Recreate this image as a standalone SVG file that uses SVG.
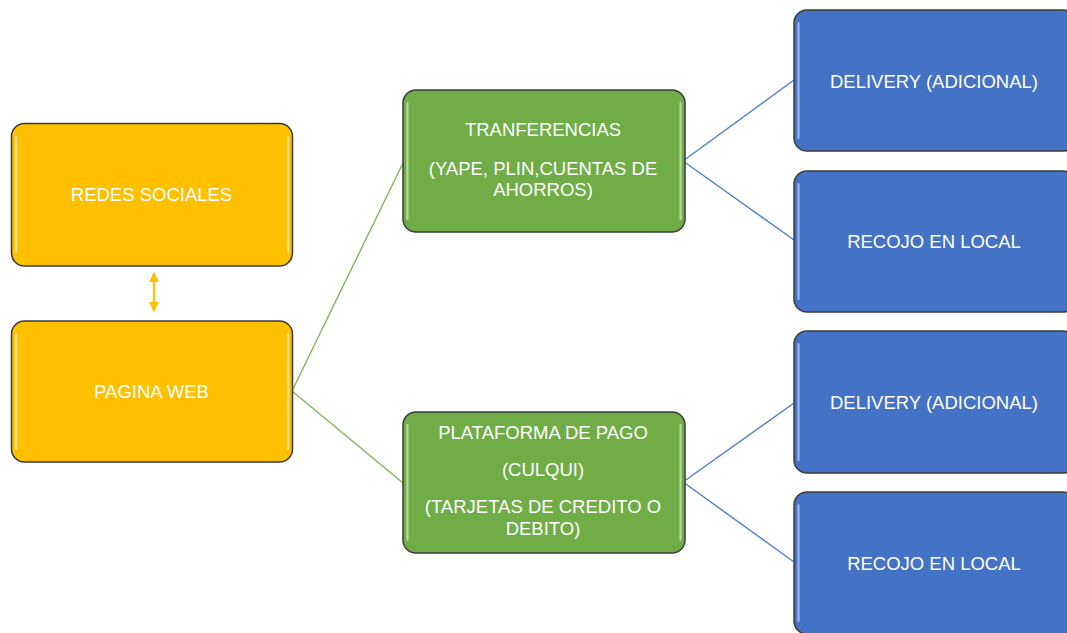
<svg xmlns="http://www.w3.org/2000/svg" width="1067" height="633" viewBox="0 0 1067 633">
  <defs>
    <marker id="ah" viewBox="0 0 10 10" refX="9" refY="5" markerWidth="10" markerHeight="10" markerUnits="userSpaceOnUse" orient="auto-start-reverse">
      <path d="M0,0 L10,5 L0,10 z" fill="#FFC000"/>
    </marker>
    <style>
      .box { stroke: #3b3b3b; stroke-width: 1.5; }
      .orange { fill: #FFC000; }
      .green { fill: #70AD47; }
      .blue { fill: #4472C4; }
      .hl { fill: none; stroke-width: 2.2; stroke-linecap: round; }
      .hlo { stroke: #FFE38C; }
      .hlg { stroke: #B5DB9C; }
      .hlb { stroke: #9CB8E8; }
      .t { font-family: "Liberation Sans", Arial, sans-serif; font-size: 18.5px; fill: #FFFFFF; text-anchor: middle; }
      .cg { stroke: #7DB856; stroke-width: 1.4; fill: none; }
      .cb { stroke: #4F7FD0; stroke-width: 1.4; fill: none; }
    </style>
  </defs>
  <rect width="1067" height="633" fill="#FFFFFF"/>

  <g id="connectors">
    <line class="cg" x1="292" y1="391" x2="403" y2="163"/>
    <line class="cg" x1="292" y1="391" x2="403" y2="483"/>
    <line class="cb" x1="683" y1="161" x2="794" y2="80"/>
    <line class="cb" x1="683" y1="161" x2="794" y2="240"/>
    <line class="cb" x1="683" y1="482" x2="794" y2="403"/>
    <line class="cb" x1="683" y1="482" x2="794" y2="562"/>
    <line x1="154" y1="273" x2="154" y2="311" stroke="#FFC000" stroke-width="2.2" marker-start="url(#ah)" marker-end="url(#ah)"/>
  </g>

  <g id="redes-sociales">
    <rect class="box orange" x="11.5" y="123.5" width="281" height="142.5" rx="13"/>
    <line class="hl hlo" x1="16" y1="137" x2="16" y2="252"/>
    <line class="hl hlo" x1="288" y1="137" x2="288" y2="252"/>
    <text class="t" x="151.5" y="201">REDES SOCIALES</text>
  </g>

  <g id="pagina-web">
    <rect class="box orange" x="11.5" y="321" width="281" height="141" rx="13"/>
    <line class="hl hlo" x1="16" y1="334" x2="16" y2="449"/>
    <line class="hl hlo" x1="288" y1="334" x2="288" y2="449"/>
    <text class="t" x="151.5" y="398">PAGINA WEB</text>
  </g>

  <g id="transferencias">
    <rect class="box green" x="403" y="90" width="282" height="142" rx="13"/>
    <line class="hl hlg" x1="407.5" y1="103" x2="407.5" y2="219"/>
    <line class="hl hlg" x1="680.5" y1="103" x2="680.5" y2="219"/>
    <text class="t" x="543" y="136">TRANFERENCIAS</text>
    <text class="t" x="543" y="175">(YAPE, PLIN,CUENTAS DE</text>
    <text class="t" x="543" y="196">AHORROS)</text>
  </g>

  <g id="plataforma">
    <rect class="box green" x="403" y="412" width="282" height="141" rx="13"/>
    <line class="hl hlg" x1="407.5" y1="425" x2="407.5" y2="540"/>
    <line class="hl hlg" x1="680.5" y1="425" x2="680.5" y2="540"/>
    <text class="t" x="543" y="439">PLATAFORMA DE PAGO</text>
    <text class="t" x="543" y="476">(CULQUI)</text>
    <text class="t" x="543" y="513">(TARJETAS DE CREDITO O</text>
    <text class="t" x="543" y="535">DEBITO)</text>
  </g>

  <g id="delivery-1">
    <rect class="box blue" x="794" y="10" width="282" height="141" rx="13"/>
    <line class="hl hlb" x1="798.5" y1="23" x2="798.5" y2="138"/>
    <text class="t" x="934" y="88">DELIVERY (ADICIONAL)</text>
  </g>

  <g id="recojo-1">
    <rect class="box blue" x="794" y="171" width="282" height="141" rx="13"/>
    <line class="hl hlb" x1="798.5" y1="184" x2="798.5" y2="299"/>
    <text class="t" x="934" y="248">RECOJO EN LOCAL</text>
  </g>

  <g id="delivery-2">
    <rect class="box blue" x="794" y="331" width="282" height="142" rx="13"/>
    <line class="hl hlb" x1="798.5" y1="344" x2="798.5" y2="460"/>
    <text class="t" x="934" y="409">DELIVERY (ADICIONAL)</text>
  </g>

  <g id="recojo-2">
    <rect class="box blue" x="794" y="492" width="282" height="142" rx="13"/>
    <line class="hl hlb" x1="798.5" y1="505" x2="798.5" y2="621"/>
    <text class="t" x="934" y="570">RECOJO EN LOCAL</text>
  </g>
</svg>
